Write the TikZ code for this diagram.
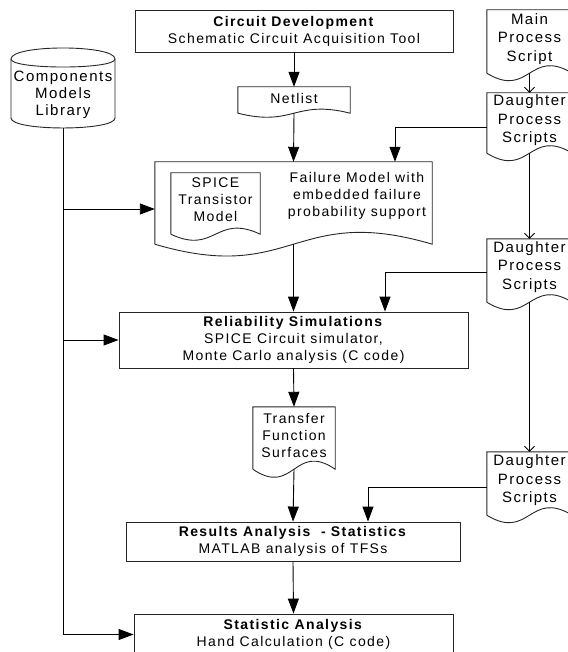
\documentclass[tikz,border=0pt]{standalone}
\usepackage{fontspec}
\setmainfont{Liberation Sans}[LetterSpace=10]
\usetikzlibrary{arrows.meta,calc}
\newcommand{\docout}[2]{\draw[shapeline] (#1.south west) -- (#1.north west) -- (#1.north east) -- (#1.south east) .. controls ($(#1.south)+(0,-#2)$) and ($(#1.south)+(0,#2)$) .. (#1.south west);}
\tikzset{
  every node/.style={font=\fontsize{14}{17}\selectfont},
  box/.style={draw=black!85, line width=0.9pt, rectangle, inner sep=0pt, align=center},
  inv/.style={rectangle, inner sep=0pt},
  shapeline/.style={draw=black!85, line width=0.9pt},
  lbl/.style={align=center, inner sep=0pt, font=\fontsize{14}{17}\selectfont},
  lblbig/.style={align=center, inner sep=0pt, font=\fontsize{15}{18.5}\selectfont},
  lbllib/.style={align=center, inner sep=0pt, font=\fontsize{15}{17}\selectfont},
  conn/.style={line width=0.9pt, -{Triangle[length=15pt,width=11pt]}},
  openconn/.style={line width=0.8pt, -{Straight Barb[length=5pt,width=10pt]}},
}
\begin{document}
\begin{tikzpicture}[x=1pt,y=-1pt]
\useasboundingbox (0,0) rectangle (567,652);
% main column boxes
\node[box, minimum width=318pt, minimum height=42pt] (circ) at (294,31) {\textbf{Circuit Development}\\Schematic Circuit Acquisition Tool};
\node[inv, minimum width=112pt, minimum height=26pt, label={[lbl, yshift=2pt]center:Netlist}] (net) at (294,100) {};
\node[inv, minimum width=277pt, minimum height=82pt] (fm) at (293.5,203) {};
\node[lbl] (fmtext) at (357,196) {Failure Model with\\embedded failure\\probability support};
\node[inv, minimum width=89pt, minimum height=61pt, label={[lbl, yshift=3.5pt]center:{SPICE\\Transistor\\Model}}] (spice) at (215.5,203.5) {};
\node[box, minimum width=349pt, minimum height=56pt] (rel) at (293.5,340) {\textbf{Reliability Simulations}\\SPICE Circuit simulator,\\Monte Carlo analysis (C code)};
\node[inv, minimum width=82pt, minimum height=62pt, label={[lbl, yshift=3pt]center:{Transfer\\Function\\Surfaces}}] (tfs) at (294,438) {};
\node[box, minimum width=334pt, minimum height=39pt] (res) at (293,541.5) {\textbf{Results Analysis~~- Statistics}\\MATLAB analysis of TFSs};
\node[box, minimum width=319pt, minimum height=41pt] (stat) at (293.5,634.5) {\textbf{Statistic Analysis}\\Hand Calculation (C code)};
% library cylinder
\node[inv, minimum width=104pt, minimum height=80pt, label={[lbllib, yshift=-6.5pt]center:{Components\\Models\\Library}}] (lib) at (63,88) {};
\draw[shapeline] (11,59) -- (11,118) .. controls (11,131.3) and (115,131.3) .. (115,118) -- (115,59) .. controls (115,44.3) and (11,44.3) .. (11,59);
\draw[shapeline] (11,59) .. controls (11,69.7) and (115,69.7) .. (115,59);
% right column
\node[inv, minimum width=85pt, minimum height=63pt, label={[lblbig, yshift=2.5pt]center:{Main\\Process\\Script}}] (main) at (529.5,41.5) {};
\node[inv, minimum width=85pt, minimum height=60pt, label={[lblbig, yshift=2.5pt]center:{Daughter\\Process\\Scripts}}] (d1) at (529.5,123) {};
\node[inv, minimum width=85pt, minimum height=63pt, label={[lblbig, yshift=3.5pt]center:{Daughter\\Process\\Scripts}}] (d2) at (529.5,270.5) {};
\node[inv, minimum width=85pt, minimum height=63pt, label={[lblbig, yshift=3pt]center:{Daughter\\Process\\Scripts}}] (d3) at (529.5,483.5) {};
% document outlines
\docout{net}{14}
\docout{fm}{41}
\docout{spice}{21}
\docout{tfs}{28}
\docout{main}{26}
\docout{d1}{26}
\docout{d2}{26}
\docout{d3}{26}
% coordinates for bends
\coordinate (b1) at (63,209);
\coordinate (k1) at (395,0);
\coordinate (k2) at (385,0);
\coordinate (k3) at (368,0);
% main flow
\draw[conn] (circ.south) -- (net.north);
\draw[conn] (net.south) -- (fm.north);
\draw[conn] (fm.south) -- (rel.north);
\draw[conn] (rel.south) -- (tfs.north);
\draw[conn] (tfs.south) -- (res.north);
\draw[conn] (res.south) -- (stat.north);
% library feeds
\draw[conn] (lib.south) |- (stat.west);
\draw[conn] (b1) -- (b1 -| fm.west);
\draw[conn] (lib.south |- rel.west) -- (rel.west);
% scripts
\draw[openconn] (main.south) -- (d1.north);
\draw[openconn] (d1.south) -- (d2.north);
\draw[openconn] (d2.south) -- (d3.north);
\draw[conn] ([yshift=-4pt]d1.west) -| (k1 |- fm.north);
\draw[conn] ([yshift=-1.5pt]d2.west) -| (k2 |- rel.north);
\draw[conn] ([yshift=-3.5pt]d3.west) -| (k3 |- res.north);
\end{tikzpicture}
\end{document}
